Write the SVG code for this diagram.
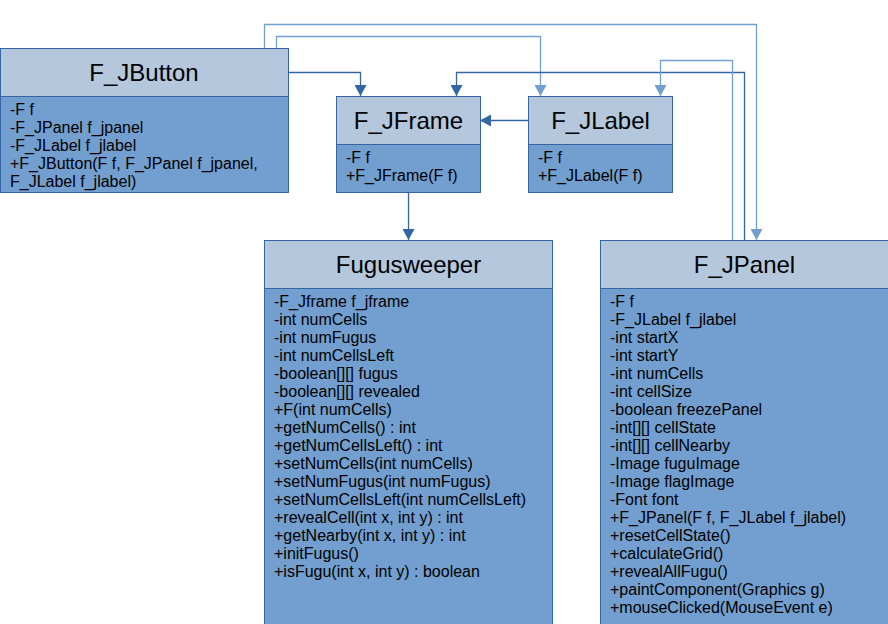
<svg xmlns="http://www.w3.org/2000/svg" width="888" height="624" viewBox="0 0 888 624">
<style>
.hd{fill:#b4c7dc;stroke:#3465a4;stroke-width:1}
.bd{fill:#729fcf;stroke:#3465a4;stroke-width:1}
.t{font-family:"Liberation Sans",Arial,sans-serif;font-size:24px;fill:#000;text-anchor:middle}
.m{font-family:"Liberation Sans",Arial,sans-serif;font-size:16px;fill:#000}
.cd{fill:none;stroke:#3465a4;stroke-width:1.3}
.cl{fill:none;stroke:#729fcf;stroke-width:1.3}
</style>
<defs>
<marker id="ad" markerWidth="12" markerHeight="12" refX="11" refY="6" orient="auto" markerUnits="userSpaceOnUse"><path d="M0,0 L11,6 L0,12 Z" fill="#3465a4"/></marker>
<marker id="al" markerWidth="12" markerHeight="12" refX="11" refY="6" orient="auto" markerUnits="userSpaceOnUse"><path d="M0,0 L11,6 L0,12 Z" fill="#729fcf"/></marker>
</defs>
<rect width="888" height="624" fill="#fff"/>
<g id="connectors">
<path class="cl" d="M264.5,48 V24.5 H756.5 V240" marker-end="url(#al)"/>
<path class="cl" d="M276.5,48 V36.5 H540.5 V96" marker-end="url(#al)"/>
<path class="cd" d="M288,72.5 H360.5 V96" marker-end="url(#ad)"/>
<path class="cd" d="M744.5,240 V72.5 H456.5 V96" marker-end="url(#ad)"/>
<path class="cl" d="M732.5,240 V60.5 H660.5 V96" marker-end="url(#al)"/>
<path class="cd" d="M528,120.5 H480" marker-end="url(#ad)"/>
<path class="cd" d="M408.5,192 V240" marker-end="url(#ad)"/>
</g>
<g id="F_JButton">
<rect class="bd" x="0.5" y="96.5" width="288" height="96"/>
<rect class="hd" x="0.5" y="48.5" width="288" height="48"/>
<text class="t" x="144" y="80.5">F_JButton</text>
<text class="m" x="10" y="115">-F f</text>
<text class="m" x="10" y="133">-F_JPanel f_jpanel</text>
<text class="m" x="10" y="151">-F_JLabel f_jlabel</text>
<text class="m" x="10" y="169">+F_JButton(F f, F_JPanel f_jpanel,</text>
<text class="m" x="10" y="187">F_JLabel f_jlabel)</text>
</g>
<g id="F_JFrame">
<rect class="bd" x="336.5" y="144.5" width="144" height="48"/>
<rect class="hd" x="336.5" y="96.5" width="144" height="48"/>
<text class="t" x="408.5" y="128.5">F_JFrame</text>
<text class="m" x="346" y="163">-F f</text>
<text class="m" x="346" y="181">+F_JFrame(F f)</text>
</g>
<g id="F_JLabel">
<rect class="bd" x="528.5" y="144.5" width="144" height="48"/>
<rect class="hd" x="528.5" y="96.5" width="144" height="48"/>
<text class="t" x="600.5" y="128.5">F_JLabel</text>
<text class="m" x="538" y="163">-F f</text>
<text class="m" x="538" y="181">+F_JLabel(F f)</text>
</g>
<g id="Fugusweeper">
<rect class="bd" x="264.5" y="288.5" width="288" height="340"/>
<rect class="hd" x="264.5" y="240.5" width="288" height="48"/>
<text class="t" x="408.5" y="272.5">Fugusweeper</text>
<text class="m" x="274" y="307">-F_Jframe f_jframe</text>
<text class="m" x="274" y="325">-int numCells</text>
<text class="m" x="274" y="343">-int numFugus</text>
<text class="m" x="274" y="361">-int numCellsLeft</text>
<text class="m" x="274" y="379">-boolean[][] fugus</text>
<text class="m" x="274" y="397">-boolean[][] revealed</text>
<text class="m" x="274" y="415">+F(int numCells)</text>
<text class="m" x="274" y="433">+getNumCells() : int</text>
<text class="m" x="274" y="451">+getNumCellsLeft() : int</text>
<text class="m" x="274" y="469">+setNumCells(int numCells)</text>
<text class="m" x="274" y="487">+setNumFugus(int numFugus)</text>
<text class="m" x="274" y="505">+setNumCellsLeft(int numCellsLeft)</text>
<text class="m" x="274" y="523">+revealCell(int x, int y) : int</text>
<text class="m" x="274" y="541">+getNearby(int x, int y) : int</text>
<text class="m" x="274" y="559">+initFugus()</text>
<text class="m" x="274" y="577">+isFugu(int x, int y) : boolean</text>
</g>
<g id="F_JPanel">
<rect class="bd" x="600.5" y="288.5" width="300" height="340"/>
<rect class="hd" x="600.5" y="240.5" width="300" height="48"/>
<text class="t" x="744.5" y="272.5">F_JPanel</text>
<text class="m" x="610" y="307">-F f</text>
<text class="m" x="610" y="325">-F_JLabel f_jlabel</text>
<text class="m" x="610" y="343">-int startX</text>
<text class="m" x="610" y="361">-int startY</text>
<text class="m" x="610" y="379">-int numCells</text>
<text class="m" x="610" y="397">-int cellSize</text>
<text class="m" x="610" y="415">-boolean freezePanel</text>
<text class="m" x="610" y="433">-int[][] cellState</text>
<text class="m" x="610" y="451">-int[][] cellNearby</text>
<text class="m" x="610" y="469">-Image fuguImage</text>
<text class="m" x="610" y="487">-Image flagImage</text>
<text class="m" x="610" y="505">-Font font</text>
<text class="m" x="610" y="523">+F_JPanel(F f, F_JLabel f_jlabel)</text>
<text class="m" x="610" y="541">+resetCellState()</text>
<text class="m" x="610" y="559">+calculateGrid()</text>
<text class="m" x="610" y="577">+revealAllFugu()</text>
<text class="m" x="610" y="595">+paintComponent(Graphics g)</text>
<text class="m" x="610" y="613">+mouseClicked(MouseEvent e)</text>
</g>
</svg>
